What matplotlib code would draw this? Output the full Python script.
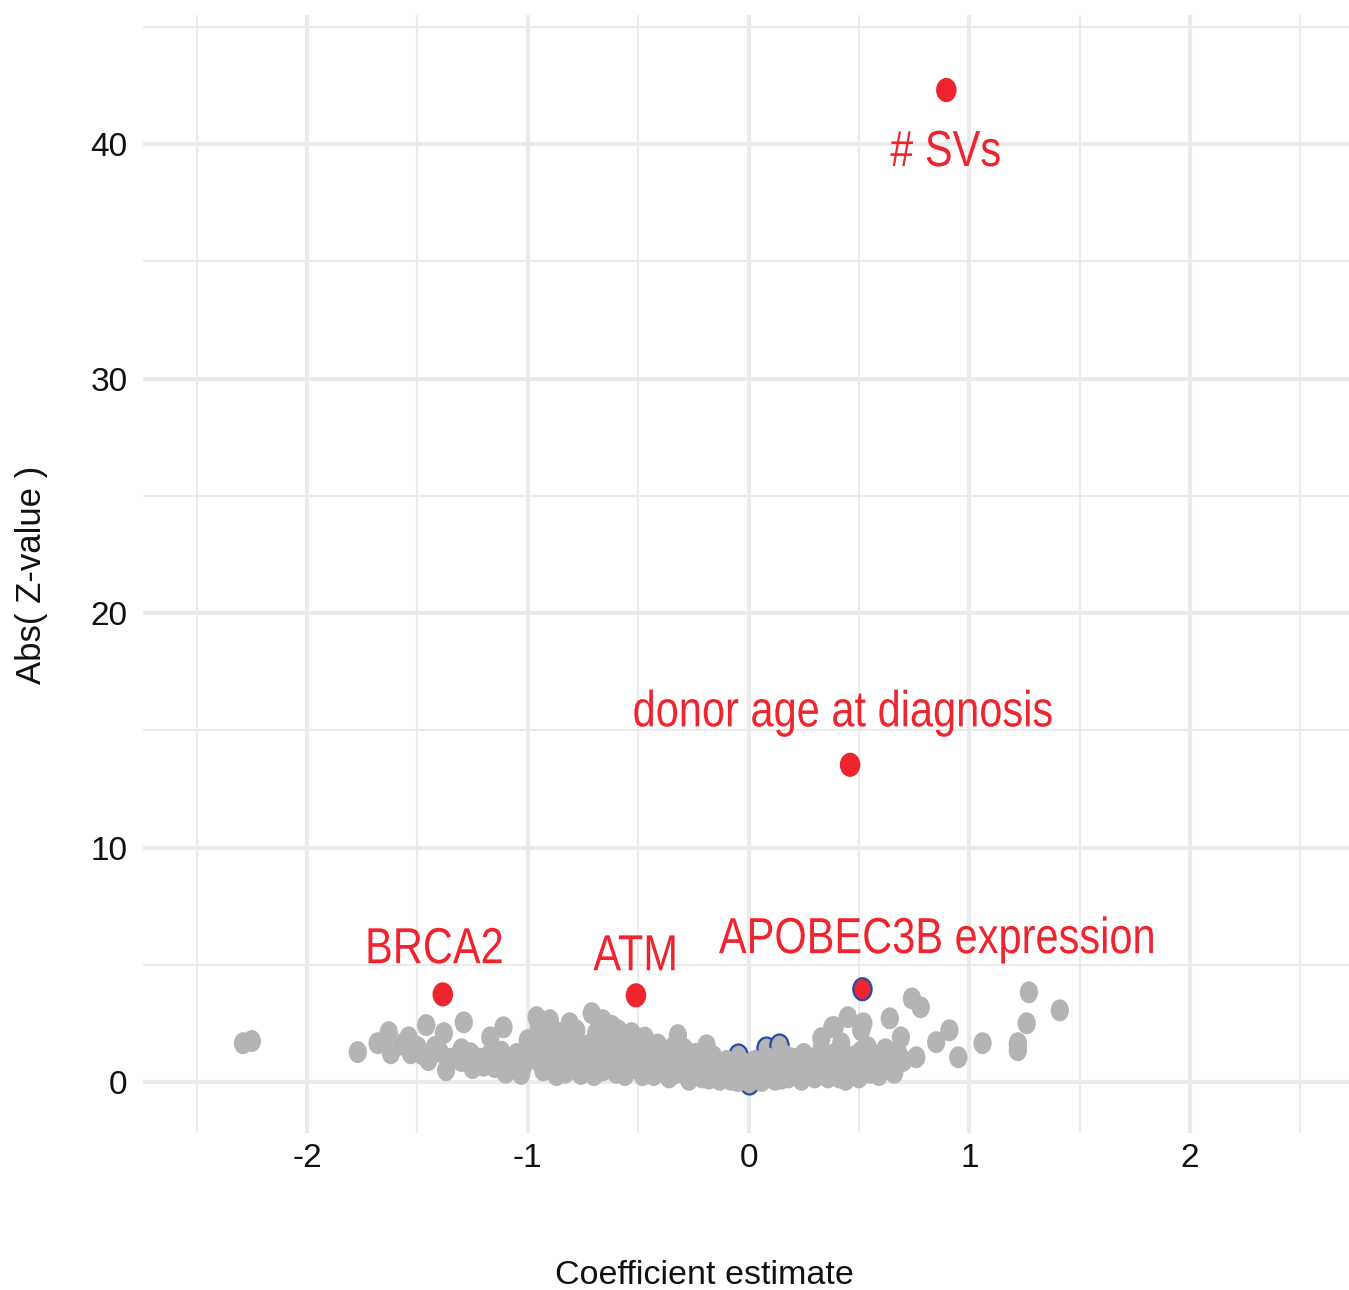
import matplotlib
matplotlib.use("Agg")
import matplotlib.pyplot as plt
from matplotlib.path import Path
from matplotlib.transforms import Affine2D, ScaledTranslation
from matplotlib.textpath import TextPath
from matplotlib.patches import PathPatch
from matplotlib.font_manager import FontProperties

# ---- data ----
# background (non significant) covariates: coefficient, |z|
gray_x = [-2.29, -2.25, -1.77, -1.68, -1.63, -1.62, -1.54, -1.53, -1.46, -1.45,
          -1.38, -1.37, -1.29, -1.26, -1.17, -1.15, -1.11, -1.08, -1.00, -1.50,
          -1.40, -1.30, -1.30, -1.22, -1.20, -1.12, -0.96, -0.90, -0.81, -0.71,
          -0.66, -0.85, -0.53, -0.32, -0.19, -0.60,
          -1.05, -1.02, -0.98, -0.95, -0.93, -0.90, -0.88, -0.85, -0.83, -0.80,
          -0.78, -0.75, -0.73, -0.70, -0.68, -0.65, -0.63, -0.60, -0.58, -0.55,
          -0.53, -0.50, -0.48, -0.46, -0.44,
          -0.42, -0.40, -0.38, -0.36, -0.34, -0.32, -0.30, -0.28, -0.26, -0.24,
          -0.22, -0.20, -0.18, -0.16, -0.14, -0.12, -0.10, -0.08, -0.06, -0.04,
          -0.02, 0.00, 0.01,
          0.03, 0.05, 0.07, 0.09, 0.11, 0.13, 0.15, 0.17, 0.19, 0.21,
          0.23, 0.25, 0.27, 0.29, 0.31, 0.33, 0.35, 0.37, 0.39, 0.41,
          0.43, 0.45, 0.47, 0.49, 0.51, 0.53, 0.55, 0.57, 0.60, 0.62,
          0.65, 0.68,
          0.33, 0.39, 0.45, 0.52, 0.64, 0.42, 0.54, 0.69, 0.74, 0.78,
          0.91, 0.85, 0.95, 0.76, 0.66, 1.06, 1.22, 1.22, 1.26, 1.27,
          1.41, 0.58, 0.51, 0.38,
          -1.03, -0.97, -0.92, -0.87, -0.84, -0.79, -0.76, -0.72, -0.69, -0.66,
          -0.62, -0.59, -0.56, -0.52, -0.49, -0.47, -0.43, -0.41, -0.37, -0.35,
          -0.33, -0.29, -0.27, -0.25, -0.23, -0.21, -0.17, -0.15, -0.13, -0.11,
          -0.09, -0.07, -0.05, -0.03, -0.01, 0.02, 0.04, 0.06, 0.08, 0.10,
          0.12, 0.14, 0.16, 0.18, 0.20, 0.22, 0.24, 0.26, 0.28, 0.30,
          0.32, 0.34, 0.36, 0.38, 0.40, 0.42, 0.44, 0.46, 0.48, 0.50,
          0.52, 0.56, 0.59, 0.63, 0.66, 0.70, -1.25, -1.18, -1.10, -1.35,
          -1.42, -1.57, -1.48, -0.03, 0.02, -0.95, -0.78, -0.62, -0.55]
gray_y = [1.66, 1.75, 1.28, 1.66, 2.13, 1.23, 1.91, 1.23, 2.43, 0.94,
          2.09, 0.51, 2.55, 1.23, 1.91, 0.64, 2.34, 0.81, 1.79, 1.50,
          1.30, 1.40, 0.90, 1.00, 0.70, 1.30, 2.77, 2.64, 2.51, 2.94,
          2.64, 2.09, 2.09, 2.00, 1.57, 1.90,
          1.20, 0.70, 1.50, 0.90, 0.50, 1.30, 0.80, 1.60, 0.40, 1.10,
          0.60, 1.40, 0.90, 0.30, 1.20, 0.70, 1.70, 0.40, 1.00, 1.50,
          0.60, 1.10, 0.30, 1.40, 0.80,
          1.20, 0.50, 0.90, 0.20, 1.50, 0.70, 1.10, 0.30, 0.80, 1.20,
          0.40, 0.90, 0.15, 1.10, 0.60, 0.30, 0.90, 0.10, 0.60, 0.30,
          0.80, 0.05, 0.40,
          0.90, 0.20, 0.60, 1.00, 0.30, 0.70, 0.15, 1.10, 0.50, 0.80,
          0.25, 1.20, 0.60, 0.30, 0.90, 1.40, 0.40, 0.80, 1.20, 0.20,
          0.70, 1.00, 0.30, 0.60, 1.30, 0.90, 0.40, 1.10, 0.70, 1.40,
          0.90, 1.20,
          1.87, 2.34, 2.77, 2.51, 2.72, 1.66, 1.49, 1.91, 3.57, 3.19,
          2.21, 1.70, 1.06, 1.06, 1.23, 1.66, 1.66, 1.36, 2.51, 3.83,
          3.06, 0.51, 2.21, 2.34,
          0.35, 1.10, 1.90, 0.30, 1.20, 1.80, 0.35, 1.60, 2.10, 0.50,
          1.30, 2.20, 0.30, 1.60, 0.70, 1.90, 0.30, 1.60, 0.60, 1.00,
          0.40, 1.40, 0.10, 0.60, 1.00, 0.20, 0.50, 0.90, 0.10, 0.50,
          0.70, 0.30, 0.05, 0.50, 0.20, 0.10, 0.60, 0.05, 0.40, 0.70,
          0.10, 0.45, 0.80, 0.20, 1.00, 0.50, 0.10, 0.80, 1.00, 0.20,
          0.55, 1.10, 0.20, 1.00, 0.50, 1.30, 0.10, 0.50, 1.10, 0.20,
          0.60, 0.80, 0.30, 0.60, 0.40, 0.90, 0.60, 1.10, 0.40, 1.00,
          1.50, 1.60, 1.20, 0.10, 0.30, 2.30, 2.20, 2.40, 2.00]

# covariates with blue outline (mostly hidden under the cloud)
blue_x = [-0.05, 0.08, 0.14, 0.00]
blue_y = [1.15, 1.45, 1.57, -0.05]

# significant covariates
sig_names = ["# SVs", "donor age at diagnosis", "BRCA2", "ATM", "APOBEC3B expression"]
sig_x = [0.896, 0.46, -1.385, -0.51, 0.516]
sig_y = [42.3, 13.53, 3.74, 3.70, 3.96]
sig_edge = ["#ee252f", "#ee252f", "#ee252f", "#ee252f", "#2a4aa8"]

# where the labels sit (centre x, baseline y)
label_pos = [(0.890, 39.06), (0.428, 15.17), (-1.42, 5.07), (-0.519, 4.77), (0.849, 5.50)]

GRAY = "#b3b4b3"
RED = "#ee252f"
BLUE = "#2a4aa8"
GRID = "#ebebeb"
FONT = ["Liberation Sans", "DejaVu Sans"]

# points in the reference are slightly taller than wide
circ = Path.unit_circle()
oval = Path(Affine2D().scale(1.0, 1.2).transform(circ.vertices), circ.codes)

fig = plt.figure(figsize=(13.49, 12.90), dpi=100)
ax = fig.add_axes([143 / 1349, 157 / 1290, 1206 / 1349, 1118 / 1290])

ax.set_xlim(-2.743, 2.720)
ax.set_ylim(-2.17, 45.5)

# grid in ggplot minimal style
for v in [-2.5, -1.5, -0.5, 0.5, 1.5, 2.5]:
    ax.axvline(v, color=GRID, lw=1.5, zorder=0)
for v in [-2, -1, 0, 1, 2]:
    ax.axvline(v, color=GRID, lw=2.9, zorder=0)
for v in [5, 15, 25, 35, 45]:
    ax.axhline(v, color=GRID, lw=1.5, zorder=0)
for v in [0, 10, 20, 30, 40]:
    ax.axhline(v, color=GRID, lw=2.9, zorder=0)

ax.scatter(blue_x, blue_y, s=250, marker=oval, facecolor=GRAY, edgecolor=BLUE,
           linewidths=1.6, zorder=2)
ax.scatter(gray_x, gray_y, s=250, marker=oval, facecolor=GRAY, edgecolor="none", zorder=3)
ax.scatter(sig_x, sig_y, s=250, marker=oval, facecolor=RED, edgecolor=sig_edge,
           linewidths=1.6, zorder=4)

# labels use a condensed face in the reference: squeeze text paths horizontally
fp = FontProperties(family="Liberation Sans")
for name, (lx, ly) in zip(sig_names, label_pos):
    tp = TextPath((0, 0), name, size=36.5, prop=fp)
    ext = tp.get_extents()
    cx = (ext.x0 + ext.x1) / 2
    tr = (Affine2D().translate(-cx, 0).scale(0.82 * fig.dpi / 72, fig.dpi / 72)
          + ScaledTranslation(lx, ly, ax.transData))
    ax.add_artist(PathPatch(tp, transform=tr, facecolor=RED, edgecolor="none",
                            clip_on=False, zorder=5))

ax.set_xticks([-2, -1, 0, 1, 2])
ax.set_xticklabels(["-2", "-1", "0", "1", "2"])
ax.set_yticks([0, 10, 20, 30, 40])
ax.tick_params(length=0, labelsize=24, labelcolor="#111111")
ax.tick_params(axis="x", pad=7)
ax.tick_params(axis="y", pad=11)
for lab in ax.get_xticklabels() + ax.get_yticklabels():
    lab.set_family(FONT)

for s in ax.spines.values():
    s.set_visible(False)

fig.text(704 / 1349, 1 - 1284 / 1290, "Coefficient estimate", fontsize=24.5, family=FONT,
         ha="center", va="baseline", color="#111111")
fig.text(31 / 1349, 1 - 575 / 1290, "Abs( Z-value )", fontsize=25, family=FONT,
         ha="center", va="center", rotation=90, color="#111111")

fig.savefig("out.png", dpi=100)
